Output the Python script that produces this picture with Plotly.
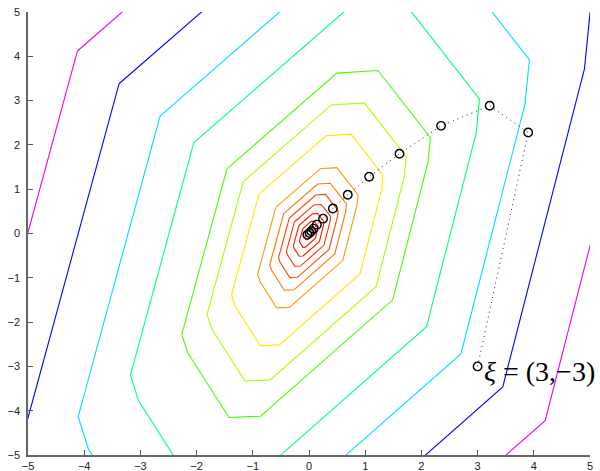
import plotly.graph_objects as go

# Unit contour polygon (level 1 = vertex at (-1, 1) on the upper-left diagonal)
POLY_X = [-1.00, -1.55, -1.48, -0.975, -0.59, 1.02, 1.45, 1.48, 0.84, 0.34]
POLY_Y = [1.00, -1.56, -1.84, -2.845, -2.825, -1.025, 1.10, 1.48, 2.52, 2.48]

# Contour levels (outer -> inner) and their colours
LEVELS = [4.12, 3.38, 2.65, 2.05, 1.46, 1.17, 0.89, 0.59, 0.45, 0.35, 0.26, 0.18, 0.11, 0.05]
LEVEL_COLORS = ["#ee00ee", "#0000ff", "#00ddff", "#00ff80", "#44ff00", "#aaff00",
                "#ffe600", "#ff9900", "#ff7700", "#ff4800", "#ff3000", "#ff1c00",
                "#ff0c00", "#ff0000"]

# Iterates of the descent path starting at xi = (3, -3)
PATH_X = [3.0, 3.90, 3.215, 2.35, 1.61, 1.07, 0.69, 0.425, 0.25, 0.14, 0.08, 0.04, 0.01, -0.03]
PATH_Y = [-3.0, 2.28, 2.885, 2.43, 1.80, 1.28, 0.875, 0.565, 0.335, 0.20, 0.11, 0.05, 0.01, -0.03]

TICKS = [-5, -4, -3, -2, -1, 0, 1, 2, 3, 4, 5]
TICK_TEXT = ["\u2212" + str(-t) if t < 0 else str(t) for t in TICKS]

fig = go.Figure()

closed_x = POLY_X + POLY_X[:1]
closed_y = POLY_Y + POLY_Y[:1]
for lev, col in zip(LEVELS, LEVEL_COLORS):
    fig.add_trace(go.Scatter(
        x=[lev * v for v in closed_x], y=[lev * v for v in closed_y],
        mode="lines", line=dict(color=col, width=1.1),
        hoverinfo="skip", showlegend=False))

fig.add_trace(go.Scatter(
    x=PATH_X, y=PATH_Y, mode="lines",
    line=dict(color="#222222", width=1, dash="1px,4px"),
    hoverinfo="skip", showlegend=False))
fig.add_trace(go.Scatter(
    x=PATH_X, y=PATH_Y, mode="markers",
    marker=dict(symbol="circle-open", size=8.5, color="black", line=dict(width=1.4, color="black")),
    showlegend=False))

fig.add_annotation(
    x=3.08, y=-3.12, xref="x", yref="y", xanchor="left", yanchor="middle",
    text="<i>\u03be</i> = (3,\u22123)", showarrow=False,
    font=dict(family="Liberation Serif", size=28, color="black"))

axis_common = dict(
    range=[-5, 5], tickvals=TICKS, ticktext=TICK_TEXT, ticks="inside", ticklen=5,
    tickcolor="#555555", showline=True, linecolor="#666666", linewidth=1.5,
    showgrid=False, zeroline=False, mirror=False, automargin=False,
    ticklabeloverflow="allow",
    tickfont=dict(family="Liberation Sans", size=11, color="#222222"))

fig.update_layout(
    width=600, height=471,
    margin=dict(l=28, r=10, t=12, b=16, autoexpand=False),
    paper_bgcolor="white", plot_bgcolor="white",
    xaxis=dict(**axis_common, ticklabelstandoff=0),
    yaxis=dict(**axis_common, ticklabelstandoff=4),
    showlegend=False)

# Remove the page's default body margin so the figure fills the window exactly.
fig.write_html("out.html",
               config={"displayModeBar": False},
               post_script="document.body.style.margin='0';document.body.style.overflow='hidden';")
